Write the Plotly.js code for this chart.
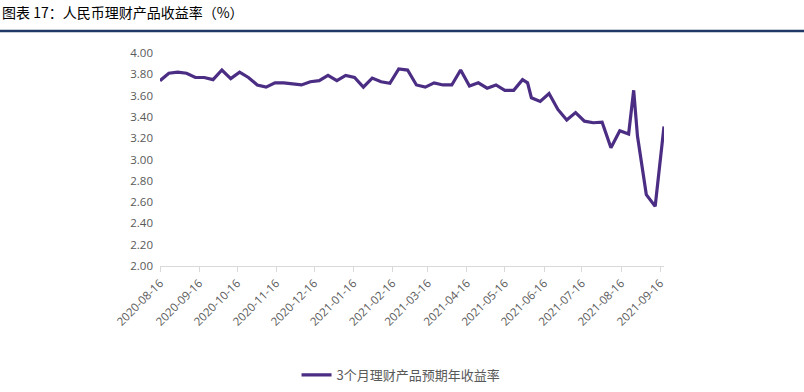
<!DOCTYPE html>
<html>
<head>
<meta charset="utf-8">
<script src="https://cdn.plot.ly/plotly-3.0.1.min.js"></script>
<style>html,body{margin:0;padding:0;background:#fff;}#chart{width:804px;height:392px;}</style>
</head>
<body>
<div id="chart"></div>
<script>
const dates = [
  "2020-08-16","2020-08-23","2020-08-30","2020-09-06","2020-09-13","2020-09-20","2020-09-27",
  "2020-10-04","2020-10-11","2020-10-18","2020-10-25","2020-11-01","2020-11-08","2020-11-15",
  "2020-11-22","2020-11-29","2020-12-06","2020-12-13","2020-12-20","2020-12-27","2021-01-03",
  "2021-01-10","2021-01-17","2021-01-24","2021-01-31","2021-02-07","2021-02-14","2021-02-21",
  "2021-02-28","2021-03-07","2021-03-14","2021-03-21","2021-03-28","2021-04-04","2021-04-11",
  "2021-04-18","2021-04-25","2021-05-02","2021-05-09","2021-05-16","2021-05-23","2021-05-30",
  "2021-06-03","2021-06-06","2021-06-13","2021-06-20","2021-06-27","2021-07-04","2021-07-11",
  "2021-07-18","2021-07-25","2021-08-01","2021-08-08","2021-08-15","2021-08-22","2021-08-26",
  "2021-08-29","2021-09-05","2021-09-12","2021-09-19"
];
const yields = [
  3.74,3.81,3.82,3.81,3.77,3.77,3.75,
  3.84,3.76,3.82,3.77,3.70,3.68,3.72,
  3.72,3.71,3.70,3.73,3.74,3.79,3.74,
  3.79,3.77,3.68,3.765,3.73,3.715,3.85,
  3.84,3.70,3.68,3.72,3.70,3.70,3.84,
  3.69,3.72,3.67,3.70,3.65,3.65,3.75,
  3.72,3.58,3.545,3.62,3.47,3.37,3.44,
  3.36,3.345,3.35,3.11,3.27,3.24,3.65,
  3.22,2.67,2.56,3.31
];
const seriesName = "3个月理财产品预期年收益率";
const chartTitle = "图表 17：人民币理财产品收益率（%）";
const yTicks = [2.0,2.2,2.4,2.6,2.8,3.0,3.2,3.4,3.6,3.8,4.0];

const trace = {
  x: dates, y: yields, type: "scatter", mode: "lines", name: seriesName,
  line: {color: "#4b2d84", width: 3.2}
};

const layout = {
  width: 804, height: 392,
  margin: {l: 160, r: 140, t: 53, b: 126},
  paper_bgcolor: "#fff", plot_bgcolor: "#fff",
  showlegend: true,
  legend: {
    orientation: "h", xref: "container", yref: "container",
    x: 0.4988, xanchor: "center", y: 1 - 375/392, yanchor: "middle",
    font: {family: "Noto Sans CJK SC", size: 13, color: "#595959"},
    itemwidth: 30
  },
  xaxis: {
    type: "date", automargin: false,
    range: ["2020-08-16", "2021-09-19"],
    tick0: "2020-08-16", dtick: "M1", tickformat: "%Y-%m-%d",
    tickangle: -45,
    ticks: "outside", ticklen: 5, tickcolor: "#d9d9d9", tickwidth: 1,
    showline: true, linecolor: "#d9d9d9", linewidth: 1,
    showgrid: false, zeroline: false,
    tickfont: {family: "Open Sans", size: 11.5, color: "#595959"}
  },
  yaxis: {
    range: [2.0, 4.0], automargin: false,
    tickvals: yTicks, tickformat: ".2f",
    ticks: "", showline: false, showgrid: false, zeroline: false,
    ticklabelstandoff: 6,
    tickfont: {family: "Open Sans", size: 11.5, color: "#595959"}
  },
  annotations: [{
    text: chartTitle, xref: "paper", yref: "paper",
    x: -160/504, xanchor: "left", y: 1 + (53-12)/213, yanchor: "middle",
    showarrow: false,
    font: {family: "Noto Sans CJK SC", size: 14, color: "#000"}
  }],
  shapes: [{
    type: "line", xref: "paper", yref: "paper",
    x0: -160/504, x1: 1 + 140/504, y0: 1 + (53-31)/213, y1: 1 + (53-31)/213,
    line: {color: "#1f3864", width: 2.5}
  }]
};

Plotly.newPlot("chart", [trace], layout, {displayModeBar: false, staticPlot: true});
</script>
</body>
</html>
